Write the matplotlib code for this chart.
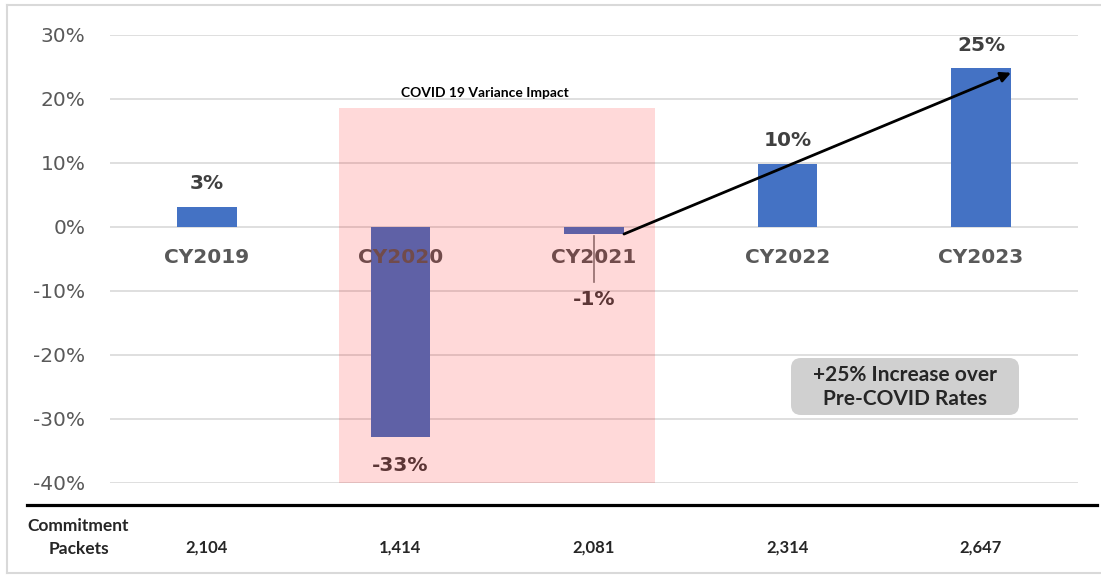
import matplotlib.pyplot as plt
from matplotlib.patches import Rectangle, FancyBboxPatch
from matplotlib.transforms import blended_transform_factory, IdentityTransform

years = ['CY2019', 'CY2020', 'CY2021', 'CY2022', 'CY2023']
variance = [3.2, -32.8, -1.1, 9.9, 24.8]
value_labels = ['3%', '-33%', '-1%', '10%', '25%']
packets = ['2,104', '1,414', '2,081', '2,314', '2,647']
yticks = [-40, -30, -20, -10, 0, 10, 20, 30]

blue = '#4472C4'
grey_txt = '#595959'

fig = plt.figure(figsize=(11.01, 5.76), dpi=100)
ax = fig.add_axes([110.25 / 1101, 1 - 483 / 576, 967.5 / 1101, 448 / 576])

x = list(range(len(years)))
bw = 0.31
ax.bar(x, variance, width=bw, color=blue, zorder=2)

ax.set_xlim(-0.5, 4.5)
ax.set_ylim(-40, 30)
ax.set_yticks(yticks)
ax.set_yticklabels([f'{t}%' for t in yticks], fontsize=14.5, color=grey_txt)
ax.tick_params(axis='y', length=0, pad=18)
ax.set_xticks([])
ax.grid(axis='y', color='#D9D9D9', lw=1.2, zorder=0)
for s in ax.spines.values():
    s.set_visible(False)

# category labels just under the zero line
for i, name in enumerate(years):
    ax.text(i, -4.7, name, ha='center', va='center', fontsize=14.5,
            fontweight='bold', color=grey_txt, zorder=3)

# value labels
offsets = [3.6, -4.4, -10.3, 3.6, 3.6]
for i, (v, lab) in enumerate(zip(variance, value_labels)):
    ax.text(i, v + offsets[i], lab, ha='center', va='center',
            fontsize=14.5, fontweight='bold', color='#404040', zorder=3)

# leader line for the -1% label
ax.plot([2, 2], [-1.4, -8.6], color='#7F7F7F', lw=1.2, zorder=3)

# COVID shaded window
ax.add_patch(Rectangle((0.682, -40), 2.315 - 0.682, 58.6, facecolor='red',
                       alpha=0.15, edgecolor='none', zorder=5))
ax.text(1.437, 21.0, 'COVID 19 Variance Impact', ha='center', va='center',
        fontsize=10, fontweight='bold', family='Lato', color='black', zorder=6)

# trend arrow
ax.annotate('', xy=(4 + bw / 2, 24.1), xytext=(2 + bw / 2, -1.1),
            arrowprops=dict(arrowstyle='-|>', color='black', lw=2,
                            mutation_scale=15, shrinkA=0, shrinkB=0), zorder=7)

# callout box
box = FancyBboxPatch((791, 576 - 415), 228, 57, boxstyle='round,pad=0,rounding_size=10',
                     facecolor='#D0D0D0', edgecolor='none', transform=IdentityTransform(),
                     zorder=4)
fig.add_artist(box)
fig.text(905 / 1101, 1 - 387 / 576, '+25% Increase over\nPre-COVID Rates', ha='center',
         va='center', fontsize=15, fontweight='bold', family='Lato', color='#262626',
         linespacing=1.2, zorder=5)

# bottom table row
fig.add_artist(plt.Line2D([27 / 1101, 1097 / 1101], [1 - 505 / 576] * 2, color='black', lw=2.3))
fig.text(78 / 1101, 1 - 526 / 576, 'Commitment', ha='center', va='center', fontsize=12.5,
         fontweight='bold', family='Lato', color='#262626')
fig.text(79 / 1101, 1 - 549 / 576, 'Packets', ha='center', va='center', fontsize=12.5,
         fontweight='bold', family='Lato', color='#262626')
trans = blended_transform_factory(ax.transData, fig.transFigure)
for i, p in enumerate(packets):
    ax.text(i, 1 - 548 / 576, p, transform=trans, ha='center', va='center', fontsize=12,
            fontweight='bold', family='Lato', color='#262626')

# faint outer frame
for xs, ys in [([7 / 1101, 1], [1 - 5 / 576] * 2), ([7 / 1101, 1], [1 - 573 / 576] * 2),
               ([7 / 1101] * 2, [1 - 5 / 576, 1 - 573 / 576])]:
    fig.add_artist(plt.Line2D(xs, ys, color='#D9D9D9', lw=1.5))

fig.savefig('out.png', dpi=100)
